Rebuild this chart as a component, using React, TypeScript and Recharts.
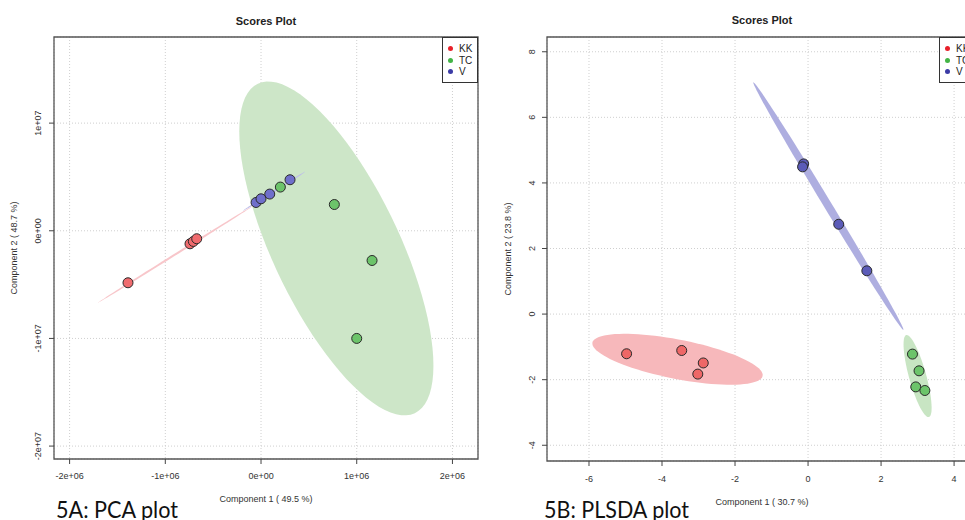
import React from 'react';
import { ScatterChart, Scatter, XAxis, YAxis, CartesianGrid, ReferenceArea, Legend } from 'recharts';

const groups = ['KK', 'TC', 'V'];
const legendColors = ['#e8202a', '#43b446', '#3b3ba6'];

// 5A: PCA scores
const pcaKK = [
  { x: -1.39e6, y: -4.83e6 },
  { x: -0.742e6, y: -1.21e6 },
  { x: -0.707e6, y: -0.99e6 },
  { x: -0.672e6, y: -0.74e6 },
];
const pcaTC = [
  { x: 0.202e6, y: 4.06e6 },
  { x: 0.766e6, y: 2.44e6 },
  { x: 1.16e6, y: -2.76e6 },
  { x: 1.0e6, y: -10.0e6 },
];
const pcaV = [
  { x: -0.052e6, y: 2.63e6 },
  { x: 0, y: 2.97e6 },
  { x: 0.091e6, y: 3.41e6 },
  { x: 0.303e6, y: 4.74e6 },
];
const pcaXTicks = [-2e6, -1e6, 0, 1e6, 2e6];
const pcaXTickLabels = ['-2e+06', '-1e+06', '0e+00', '1e+06', '2e+06'];
const pcaYTicks = [-2e7, -1e7, 0, 1e7];
const pcaYTickLabels = ['-2e+07', '-1e+07', '0e+00', '1e+07'];

// confidence ellipses: centre x, centre y, major semi-axis (dx, dy), minor semi-axis (dx, dy)
const pcaEllKK = [-0.893e6, -2.18e6, 0.81e6, 4.5e6, 0.0055e6, -0.08e6];
const pcaEllTC = [0.787e6, -1.64e6, 0.82e6, -15.3e6, 0.597e6, 2.53e6];
const pcaEllV = [0.136e6, 3.67e6, 0.324e6, 1.81e6, 0.005e6, -0.07e6];

// 5B: PLS-DA scores
const plsKK = [
  { x: -4.97, y: -1.21 },
  { x: -3.46, y: -1.11 },
  { x: -2.87, y: -1.49 },
  { x: -3.02, y: -1.83 },
];
const plsTC = [
  { x: 2.86, y: -1.22 },
  { x: 3.04, y: -1.73 },
  { x: 2.95, y: -2.22 },
  { x: 3.2, y: -2.33 },
];
const plsV = [
  { x: -0.12, y: 4.58 },
  { x: -0.15, y: 4.49 },
  { x: 0.84, y: 2.74 },
  { x: 1.61, y: 1.32 },
];
const plsXTicks = [-6, -4, -2, 0, 2, 4];
const plsXTickLabels = ['-6', '-4', '-2', '0', '2', '4'];
const plsYTicks = [-4, -2, 0, 2, 4, 6, 8];
const plsYTickLabels = ['-4', '-2', '0', '2', '4', '6', '8'];

const plsEllKK = [-3.575, -1.378, 2.33, -0.509, -0.104, -0.588];
const plsEllTC = [3.0, -1.89, 0.31, -1.25, 0.227, 0.07];
const plsEllV = [0.556, 3.295, 2.055, -3.775, 0.094, 0.063];

const outline = ([cx, cy, ax, ay, bx, by]: number[]) =>
  Array.from({ length: 91 }, (_, i) => {
    const t = (i / 90) * 2 * Math.PI;
    return { x: cx + ax * Math.cos(t) + bx * Math.sin(t), y: cy + ay * Math.cos(t) + by * Math.sin(t) };
  });

const dot = (fill: string) => (p: any) => (
  <circle cx={p.cx} cy={p.cy} r={5} fill={fill} stroke="#2a2a2a" strokeWidth={1} />
);
const noDot = () => <g />;

const LegendBox = ({ width }: { width: number }) => (
  <div
    style={{
      boxSizing: 'border-box', width, height: 46, border: '1px solid #333', background: '#fff',
      padding: '5px 0 0 5px', fontSize: 10, lineHeight: '11.5px', color: '#222', whiteSpace: 'nowrap', overflow: 'hidden',
    }}
  >
    {groups.map((g, i) => (
      <div key={g} style={{ display: 'flex', alignItems: 'center' }}>
        <span style={{ display: 'inline-block', width: 5, height: 5, borderRadius: '50%', background: legendColors[i], marginRight: 6 }} />
        {g}
      </div>
    ))}
  </div>
);

const xTick = (labels: string[], ticks: number[]) => (p: any) => (
  <text x={p.x} y={p.y} textAnchor="middle" dominantBaseline="central" fontSize={9} fill="#333">
    {labels[ticks.indexOf(p.payload.value)]}
  </text>
);
const yTick = (labels: string[], ticks: number[]) => (p: any) => (
  <text transform={`translate(${p.x},${p.y}) rotate(-90)`} textAnchor="middle" dominantBaseline="central" fontSize={9} fill="#333">
    {labels[ticks.indexOf(p.payload.value)]}
  </text>
);

interface PanelProps {
  left: number;
  width: number;
  margin: { top: number; right: number; bottom: number; left: number };
  xDomain: number[];
  yDomain: number[];
  xTicks: number[];
  xTickLabels: string[];
  yTicks: number[];
  yTickLabels: string[];
  xTickMargin: number;
  yTickMargin: number;
  ellipses: { d: number[]; fill: string }[];
  series: { name: string; data: { x: number; y: number }[]; fill: string }[];
  legendLeft: number;
  legendWidth: number;
}

const Panel = (p: PanelProps) => (
  <div style={{ position: 'absolute', left: p.left, top: 0 }}>
    <ScatterChart width={p.width} height={520} margin={p.margin}>
      <CartesianGrid stroke="#cfcfcf" strokeDasharray="1 2" />
      <XAxis
        type="number" dataKey="x" domain={p.xDomain} allowDataOverflow ticks={p.xTicks} interval={0}
        height={1} axisLine={false} tickLine={{ stroke: '#444' }} tickSize={5} tickMargin={p.xTickMargin}
        tick={xTick(p.xTickLabels, p.xTicks)}
      />
      <YAxis
        type="number" dataKey="y" domain={p.yDomain} allowDataOverflow ticks={p.yTicks} interval={0}
        width={1} axisLine={false} tickLine={{ stroke: '#444' }} tickSize={5} tickMargin={p.yTickMargin}
        tick={yTick(p.yTickLabels, p.yTicks)}
      />
      {p.ellipses.map((e, i) => (
        <Scatter
          key={'e' + i} data={outline(e.d)} shape={noDot} legendType="none"
          line={{ fill: e.fill, stroke: 'none' }} lineType="joint" isAnimationActive={false}
        />
      ))}
      {p.series.map((s) => (
        <Scatter key={s.name} name={s.name} data={s.data} shape={dot(s.fill)} isAnimationActive={false} />
      ))}
      <ReferenceArea
        x1={p.xDomain[0]} x2={p.xDomain[1]} y1={p.yDomain[0]} y2={p.yDomain[1]}
        fill="none" stroke="#555" strokeWidth={1.3} ifOverflow="visible"
      />
      <Legend
        layout="vertical" align="center" verticalAlign="middle"
        wrapperStyle={{ left: p.legendLeft, top: p.margin.top, width: p.legendWidth, height: 46 }}
        content={() => <LegendBox width={p.legendWidth} />}
      />
    </ScatterChart>
  </div>
);

const App = () => (
  <div
    style={{
      position: 'absolute', left: 0, top: 0, width: 965, height: 520, overflow: 'hidden',
      background: '#fff', fontFamily: '"Liberation Sans", Arial, sans-serif',
    }}
  >
    <Panel
      left={0} width={490} margin={{ top: 37, right: 12, bottom: 60, left: 53 }}
      xDomain={[-2.163e6, 2.267e6]} yDomain={[-2.12e7, 1.8e7]}
      xTicks={pcaXTicks} xTickLabels={pcaXTickLabels} yTicks={pcaYTicks} yTickLabels={pcaYTickLabels}
      xTickMargin={12} yTickMargin={11}
      ellipses={[
        { d: pcaEllTC, fill: '#cde6c8' },
        { d: pcaEllKK, fill: '#f8c6ca' },
        { d: pcaEllV, fill: '#bdbdea' },
      ]}
      series={[
        { name: 'KK', data: pcaKK, fill: '#f06b6e' },
        { name: 'TC', data: pcaTC, fill: '#6cc46a' },
        { name: 'V', data: pcaV, fill: '#6f6fcb' },
      ]}
      legendLeft={442} legendWidth={36}
    />
    <Panel
      left={490} width={500} margin={{ top: 37, right: 14, bottom: 58, left: 56 }}
      xDomain={[-7.15, 4.6]} yDomain={[-4.48, 8.45]}
      xTicks={plsXTicks} xTickLabels={plsXTickLabels} yTicks={plsYTicks} yTickLabels={plsYTickLabels}
      xTickMargin={13} yTickMargin={10}
      ellipses={[
        { d: plsEllKK, fill: '#f7b8bb' },
        { d: plsEllTC, fill: '#c8e5c3' },
        { d: plsEllV, fill: '#aeaee0' },
      ]}
      series={[
        { name: 'KK', data: plsKK, fill: '#ee6767' },
        { name: 'TC', data: plsTC, fill: '#6cc46a' },
        { name: 'V', data: plsV, fill: '#5b5bb8' },
      ]}
      legendLeft={449} legendWidth={37}
    />
    <svg width={965} height={520} style={{ position: 'absolute', left: 0, top: 0, pointerEvents: 'none' }}>
      <g fontSize={11} fontWeight="bold" fill="#222" textAnchor="middle">
        <text x={266} y={25}>Scores Plot</text>
        <text x={762} y={24}>Scores Plot</text>
      </g>
      <g fontSize={9} fill="#333" textAnchor="middle" dominantBaseline="central">
        <text x={266} y={499}>Component 1 ( 49.5 %)</text>
        <text x={762} y={502}>Component 1 ( 30.7 %)</text>
        <text transform="translate(14,248) rotate(-90)">Component 2 ( 48.7 %)</text>
        <text transform="translate(508,249) rotate(-90)">Component 2 ( 23.8 %)</text>
      </g>
      <g fontSize={24} fill="#111" fontFamily="Lato, 'Open Sans', sans-serif">
        <text x={56} y={518} textLength={122} lengthAdjust="spacingAndGlyphs">5A: PCA plot</text>
        <text x={544} y={518} textLength={145} lengthAdjust="spacingAndGlyphs">5B: PLSDA plot</text>
      </g>
    </svg>
  </div>
);

export default App;
